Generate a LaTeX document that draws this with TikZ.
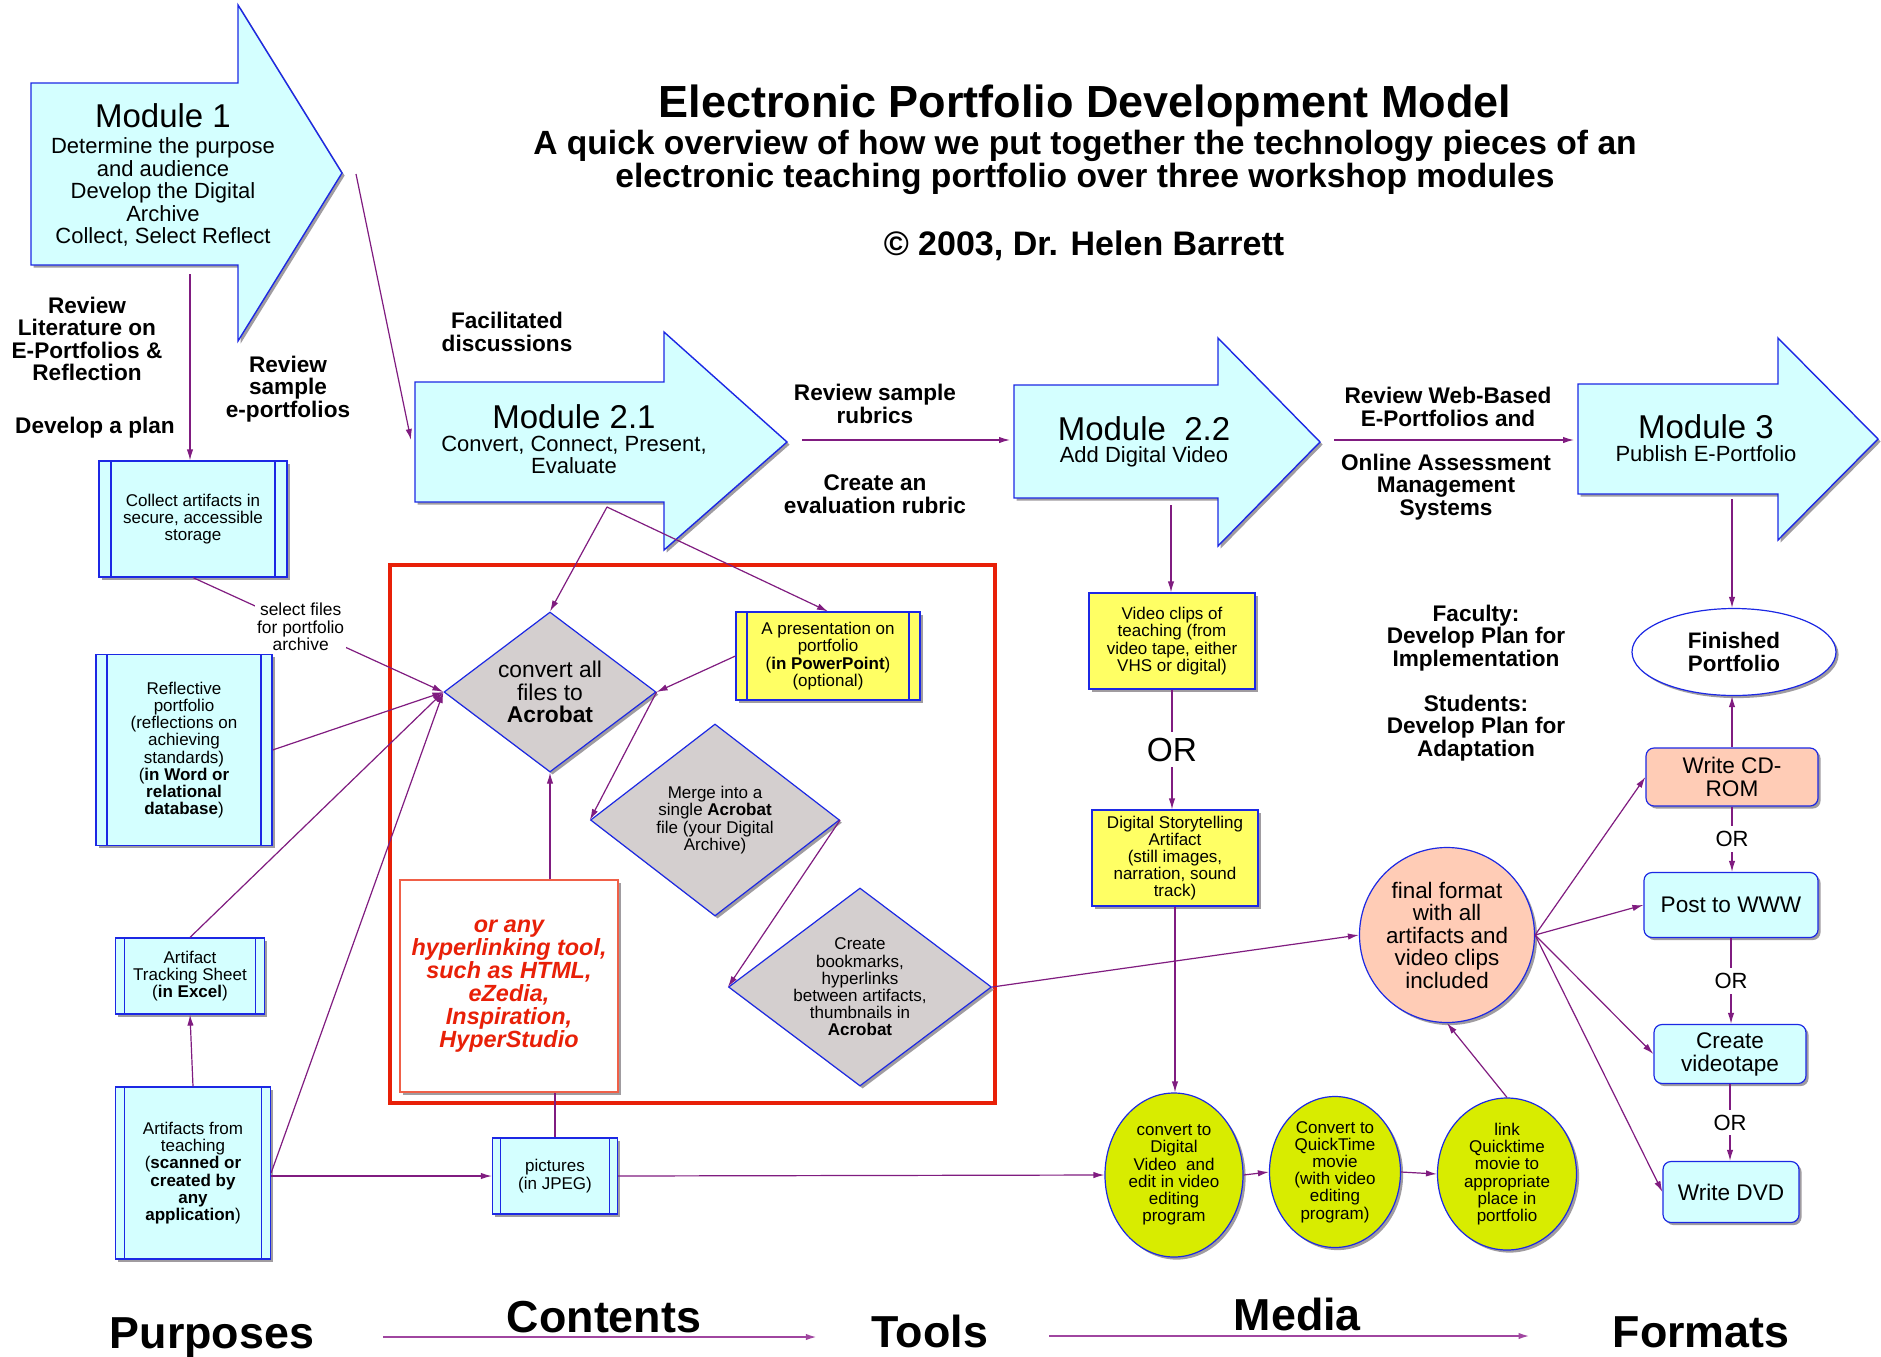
\documentclass[tikz,border=0pt]{standalone}
\usepackage{fontspec}
\setmainfont{Liberation Sans}
\usetikzlibrary{positioning,shapes.geometric,shadows,arrows.meta}

\definecolor{cyanpale}{RGB}{212,255,255}
\definecolor{bleutrait}{RGB}{28,40,228}
\definecolor{violetlien}{RGB}{128,28,128}
\definecolor{violetbas}{RGB}{160,70,160}
\definecolor{jaunevif}{RGB}{255,255,100}
\definecolor{grislosange}{RGB}{212,207,207}
\definecolor{vertacide}{RGB}{216,236,0}
\definecolor{saumon}{RGB}{255,204,182}
\definecolor{rougevif}{RGB}{232,32,8}
\definecolor{rougeclair}{RGB}{240,96,72}
\definecolor{ombregris}{RGB}{160,156,160}

\tikzset{
  fleche/.style={draw=violetlien, line width=0.6pt, -{Latex[length=5.5pt,width=3.2pt]}},
  trait/.style={draw=violetlien, line width=0.6pt},
  ombre/.style={drop shadow={shadow xshift=1.3pt, shadow yshift=-1.3pt, fill=ombregris, opacity=1}},
  module/.style={draw=bleutrait, line width=0.7pt, fill=cyanpale, ombre},
  modtitre/.style={font={\fontsize{16.5}{17}\selectfont}},
  modtexte/.style={align=center, font={\fontsize{11}{11.25}\selectfont}},
  etiq/.style={align=center, font={\fontsize{11.3}{11.25}\selectfont\bfseries}},
  boite/.style={rectangle, draw=bleutrait, line width=0.6pt, fill=cyanpale, align=center,
    inner sep=1pt, font={\fontsize{8.5}{8.6}\selectfont}, ombre,
    path picture={\draw[bleutrait, line width=0.6pt]
      ([xshift=#1]path picture bounding box.north west) -- ([xshift=#1]path picture bounding box.south west)
      ([xshift=-#1]path picture bounding box.north east) -- ([xshift=-#1]path picture bounding box.south east);}},
  boite/.default=5.5pt,
  jboite/.style={rectangle, draw=bleutrait, line width=0.6pt, fill=jaunevif, align=center,
    inner sep=1pt, font={\fontsize{8.5}{8.6}\selectfont}, ombre},
  losange/.style={diamond, draw=bleutrait, line width=0.6pt, fill=grislosange, align=center,
    inner sep=0pt, aspect=1.3, font={\fontsize{8.5}{8.6}\selectfont}, ombre},
  ovale/.style={ellipse, draw=bleutrait, line width=0.6pt, fill=vertacide, align=center,
    inner sep=0pt, font={\fontsize{8.5}{8.6}\selectfont}, ombre},
  arrondi/.style={rectangle, rounded corners=4pt, draw=bleutrait, line width=0.6pt, fill=cyanpale,
    align=center, inner sep=2pt, font={\fontsize{11.3}{11.5}\selectfont}, ombre},
  ou/.style={fill=white, inner sep=2.5pt, font={\fontsize{11}{11}\selectfont}},
  bas/.style={font={\fontsize{22.4}{23}\selectfont\bfseries}},
}

\begin{document}
\begin{tikzpicture}[x=0.5pt, y=-0.5pt]
  \path[use as bounding box, fill=white] (0,0) rectangle (1881,1356);

  % Titre
  \node[anchor=base, font={\fontsize{22.5}{24}\selectfont\bfseries}] (titre) at (1085,117) {Electronic Portfolio Development Model};
  \node[align=center, font={\fontsize{16.8}{16.5}\selectfont\bfseries}] (soustitre) at (1085,162)
    {A quick overview of how we put together the technology pieces of an\\electronic teaching portfolio over three workshop modules};
  \node[anchor=base, font={\fontsize{17}{17}\selectfont\bfseries}] (auteur) at (1084,255) {© 2003, Dr. Helen Barrett};

  % Les quatre modules
  \path[module] (31,83) -- (238,83) -- (238,5) -- (342,173) -- (238,341) -- (238,265) -- (31,265) -- cycle;
  \node[modtitre] (m1) at (163,116) {Module 1};
  \node[modtexte] (m1txt) at (163,192) {Determine the purpose\\and audience\\Develop the Digital\\Archive\\Collect, Select Reflect};

  \path[module] (415,382) -- (664,382) -- (664,332) -- (787,442) -- (664,550) -- (664,502) -- (415,502) -- cycle;
  \node[modtitre] (m21) at (574,417) {Module 2.1};
  \node[modtexte] (m21txt) at (574,455) {Convert, Connect, Present,\\Evaluate};

  \path[module] (1014,385) -- (1218,385) -- (1218,338) -- (1320,442) -- (1218,546) -- (1218,498) -- (1014,498) -- cycle;
  \node[modtitre] (m22) at (1144,429) {Module~ 2.2};
  \node[modtexte] (m22txt) at (1144,457) {Add Digital Video};

  \path[module] (1578,384) -- (1778,384) -- (1778,338) -- (1878,439) -- (1778,540) -- (1778,494) -- (1578,494) -- cycle;
  \node[modtitre] (m3) at (1706,427) {Module 3};
  \node[modtexte] (m3txt) at (1706,454) {Publish E-Portfolio};

  \coordinate (m1bas) at (190,274);
  \coordinate (m1pointe) at (356,174);
  \coordinate (m21gauche) at (411,440);
  \coordinate (m21bas) at (607,507);
  \coordinate (m21droite) at (802,440);
  \coordinate (m22gauche) at (1010,440);
  \coordinate (m22bas) at (1171,505);
  \coordinate (m22droite) at (1334,440);
  \coordinate (m3gauche) at (1574,440);
  \coordinate (m3bas) at (1732,499);

  % Etiquettes en gras
  \node[etiq] (lit) at (87,339) {Review\\Literature on\\E-Portfolios \&\\Reflection};
  \node[etiq] (plan) at (95,428) {Develop a plan};
  \node[etiq] (echant) at (288,389) {Review\\sample\\e-portfolios};
  \node[etiq] (facil) at (507,332) {Facilitated\\discussions};
  \node[etiq] (rubr) at (875,404) {Review sample\\rubrics};
  \node[etiq] (evalr) at (875,494) {Create an\\evaluation rubric};
  \node[etiq] (web) at (1448,407) {Review Web-Based\\E-Portfolios and};
  \node[etiq] (online) at (1446,487) {Online Assessment\\Management\\Systems};
  \node[etiq] (fac) at (1476,638) {Faculty:\\Develop Plan for\\Implementation};
  \node[etiq] (etud) at (1476,728) {Students:\\Develop Plan for\\Adaptation};

  % Colonne de gauche
  \node[boite=6pt, minimum width=94pt, minimum height=58pt] (collect) at (193,519) {Collect artifacts in\\secure, accessible\\storage};
  \node[boite, minimum width=88pt, minimum height=95.5pt] (reflect) at (184,750)
    {Reflective\\portfolio\\(reflections on\\achieving\\standards)\\(\textbf{in Word or}\\\textbf{relational}\\\textbf{database})};
  \node[boite=4.5pt, minimum width=74.5pt, minimum height=38pt] (suivi) at (190,976) {Artifact\\Tracking Sheet\\(\textbf{in Excel})};
  \node[boite=4.5pt, minimum width=77.5pt, minimum height=86pt] (teach) at (193,1173)
    {Artifacts from\\teaching\\(\textbf{scanned or}\\\textbf{created by}\\\textbf{any}\\\textbf{application})};
  \node[boite=4pt, minimum width=62.5pt, minimum height=38pt] (pict) at (555,1176) {pictures\\(in JPEG)};

  % Cadre rouge des outils
  \draw[rougevif, line width=1.6pt] (390,565) rectangle (995,1103);
  \node[rectangle, draw=rougeclair, line width=0.7pt, fill=white, ombre, align=center, text=rougevif,
    font={\fontsize{11.7}{11.5}\selectfont\bfseries\itshape}, minimum width=109pt, minimum height=106pt] (outil) at (509,986)
    {or any\\hyperlinking tool,\\such as HTML,\\eZedia,\\Inspiration,\\HyperStudio};

  \node[losange, aspect=1.33, minimum width=106pt, minimum height=80pt, font={\fontsize{11.4}{11.2}\selectfont}] (convert) at (550,692)
    {convert all\\files to\\\textbf{Acrobat}};
  \node[boite, fill=jaunevif, minimum width=92pt, minimum height=44pt] (present) at (828,656)
    {A presentation on\\portfolio\\(\textbf{in PowerPoint})\\(optional)};
  \node[losange, minimum width=124.5pt, minimum height=96pt] (merge) at (715,820)
    {Merge into a\\single \textbf{Acrobat}\\file (your Digital\\Archive)};
  \node[losange, aspect=1.33, inner sep=-2pt, minimum width=131.5pt, minimum height=99pt] (create) at (860,987)
    {Create\\bookmarks,\\hyperlinks\\between artifacts,\\thumbnails in\\\textbf{Acrobat}};

  % Video
  \node[jboite, minimum width=83pt, minimum height=48pt] (video) at (1172,641) {Video clips of\\teaching (from\\video tape, either\\VHS or digital)};
  \node[jboite, minimum width=83pt, minimum height=48pt] (story) at (1175,858) {Digital Storytelling\\Artifact\\(still images,\\narration, sound\\track)};
  \node[ovale, minimum width=69pt, minimum height=82pt] (dv) at (1174,1175) {convert to\\Digital\\Video~~and\\edit in video\\editing\\program};
  \node[ovale, minimum width=65.5pt, minimum height=75.5pt] (qt) at (1335,1172) {Convert to\\QuickTime\\movie\\(with video\\editing\\program)};
  \node[ovale, minimum width=69.5pt, minimum height=76pt] (lien) at (1507,1174) {link\\Quicktime\\movie to\\appropriate\\place in\\portfolio};
  \node[circle, draw=bleutrait, line width=0.6pt, fill=saumon, ombre, align=center, inner sep=0pt, minimum size=87.5pt,
    font={\fontsize{11.2}{11.25}\selectfont}] (final) at (1447,935) {final format\\with all\\artifacts and\\video clips\\included};

  % Formats
  \node[ovale, fill=white, minimum width=102pt, minimum height=43.5pt, font={\fontsize{11.2}{11.5}\selectfont\bfseries}] (fini) at (1734,652) {Finished\\Portfolio};
  \node[arrondi, fill=saumon, minimum width=86pt, minimum height=29pt] (cd) at (1732,777) {Write CD-\\ROM};
  \node[arrondi, minimum width=87pt, minimum height=32.5pt] (www) at (1731,905) {Post to WWW};
  \node[arrondi, minimum width=76pt, minimum height=29.5pt] (vtape) at (1730,1054) {Create\\videotape};
  \node[arrondi, minimum width=68pt, minimum height=30.5pt] (dvd) at (1731,1192) {Write DVD};

  % Liaisons
  \draw[fleche] (m1bas) -- (collect.north -| m1bas);
  \draw[fleche] (m1pointe) -- (m21gauche);
  \draw[fleche] (m21bas) -- (convert.north);
  \draw[fleche] (m21bas) -- (present.north);
  \draw[fleche] (present.west) -- (convert.east);
  \draw[fleche] (convert.east) -- (merge.west);
  \draw[fleche] (merge.east) -- (create.west);
  \draw[fleche] (create.east) -- (final.west);
  \draw[fleche] (collect.south) -- node[pos=0.43, fill=white, inner sep=1pt, align=center,
    font={\fontsize{8.7}{8.7}\selectfont}] (sel) {select files\\for portfolio\\archive} (convert.west);
  \draw[fleche] (reflect.east) -- (convert.west);
  \draw[fleche] (suivi.north) -- (convert.west);
  \draw[fleche] (teach.east) -- (convert.west);
  \draw[fleche] (teach.north) -- (suivi.south);
  \draw[fleche] (teach.east |- pict.west) -- (pict.west);
  \draw[fleche] (convert.south |- outil.north) -- (convert.south);
  \draw[trait] (pict.north) -- (pict.north |- outil.south);
  \draw[fleche] (pict.east) -- (dv.west);
  \draw[fleche] (m21droite) -- (m22gauche);
  \draw[fleche] (m22bas) -- (video.north -| m22bas);
  \draw[fleche] (video.south) -- node[ou, inner sep=3pt, font={\fontsize{16.7}{17}\selectfont}] (ou1) {OR} (video.south |- story.north);
  \draw[fleche] (story.south) -- (story.south |- dv.north);
  \draw[fleche] (dv.east) -- (qt.west);
  \draw[fleche] (qt.east) -- (lien.west);
  \draw[fleche] (lien.north) -- (final.south);
  \draw[fleche] (m22droite) -- (m3gauche);
  \draw[fleche] (m3bas) -- (fini.north -| m3bas);
  \draw[fleche] (cd.north) -- (cd.north |- fini.south);
  \draw[fleche] (cd.south) -- node[ou] (ou2) {OR} (www.north -| cd.south);
  \draw[fleche] (www.south) -- node[ou] (ou3) {OR} (vtape.north -| www.south);
  \draw[fleche] (vtape.south) -- node[ou] (ou4) {OR} (dvd.north -| vtape.south);
  \draw[fleche] (final.east) -- (cd.west);
  \draw[fleche] (final.east) -- (www.west);
  \draw[fleche] (final.east) -- (vtape.west);
  \draw[fleche] (final.east) -- (dvd.west);

  % Ligne du bas
  \node[bas, anchor=base] (purp) at (212,1348) {Purposes};
  \node[bas, anchor=base] (tools) at (930,1347) {Tools};
  \node[bas, anchor=base] (formats) at (1701,1347) {Formats};
  \draw[fleche, draw=violetbas, line width=0.9pt] ([xshift=31pt, yshift=5.5pt]purp.base east)
    -- node[bas, anchor=base, yshift=2.5pt, xshift=2pt] (contenus) {Contents} ([xshift=-24pt, yshift=5pt]tools.base west);
  \draw[fleche, draw=violetbas, line width=0.9pt] ([xshift=27pt, yshift=5.5pt]tools.base east)
    -- node[bas, anchor=base, yshift=3pt, xshift=4pt] (media) {Media} ([xshift=-38pt, yshift=5.5pt]formats.base west);
\end{tikzpicture}
\end{document}
